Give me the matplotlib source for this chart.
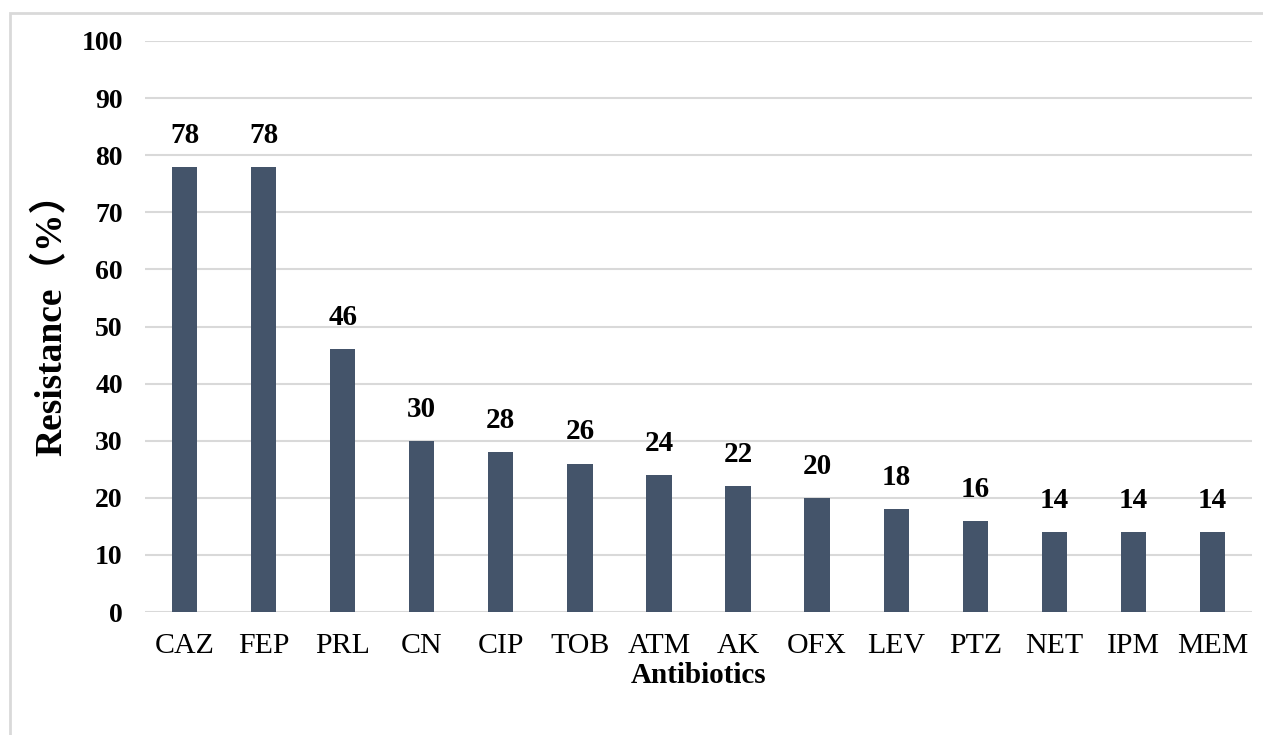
import matplotlib.pyplot as plt
from matplotlib.patches import Rectangle

# data
antibiotics = ["CAZ", "FEP", "PRL", "CN", "CIP", "TOB", "ATM", "AK",
               "OFX", "LEV", "PTZ", "NET", "IPM", "MEM"]
resistance = [78, 78, 46, 30, 28, 26, 24, 22, 20, 18, 16, 14, 14, 14]
y_ticks = [0, 10, 20, 30, 40, 50, 60, 70, 80, 90, 100]

plt.rcParams["font.family"] = ["Liberation Serif", "Noto Sans CJK SC", "DejaVu Sans"]

fig = plt.figure(figsize=(12.63, 7.35), dpi=100)
W, H = 1263, 735
ax = fig.add_axes([145 / W, 1 - 612 / H, (1252 - 145) / W, (612 - 41) / H])

x = range(len(antibiotics))
bars = ax.bar(x, resistance, width=0.32, color="#44546A", zorder=3)

for xi, v in zip(x, resistance):
    ax.annotate(str(v), (xi, v), xytext=(0, 13), textcoords="offset points",
                ha="center", va="bottom", fontsize=21, fontweight="bold")

ax.set_ylim(0, 100)
ax.set_xlim(-0.5, 13.5)
ax.set_yticks(y_ticks)
ax.set_yticklabels([str(t) for t in y_ticks], fontsize=20, fontweight="bold")
ax.set_xticks(list(x))
ax.set_xticklabels(antibiotics, fontsize=21.5)
ax.tick_params(axis="both", length=0)
ax.tick_params(axis="y", pad=16)
ax.tick_params(axis="x", pad=15)

ax.yaxis.grid(True, color="#D9D9D9", linewidth=1.5, zorder=0)
for s in ax.spines.values():
    s.set_visible(False)

ax.set_xlabel("Antibiotics", fontsize=21, fontweight="bold", labelpad=2)
ax.set_ylabel("Resistance（%）", fontsize=27, fontweight="bold")
ax.yaxis.set_label_coords(-0.068, 0.52)

# outer chart border (cut off at right and bottom)
fig.patches.append(Rectangle((10 / W, -0.05), 1.1, 1 - 13 / H + 0.05,
                             transform=fig.transFigure, fill=False,
                             edgecolor="#D9D9D9", linewidth=2))

fig.savefig("out.png", dpi=100)
